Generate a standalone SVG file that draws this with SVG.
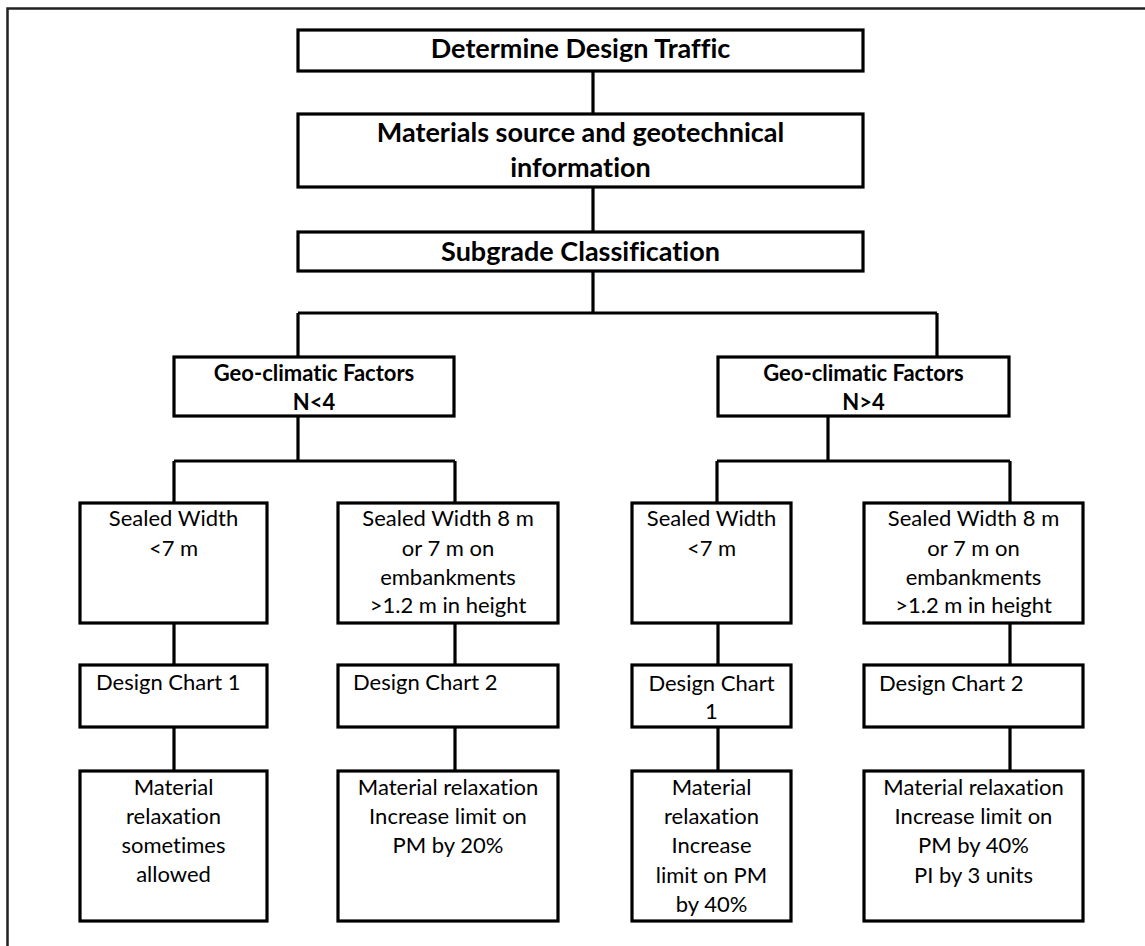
<svg xmlns="http://www.w3.org/2000/svg" width="1145" height="946" viewBox="0 0 1145 946">
<style>
.box{fill:#fff;stroke:#000;stroke-width:3.2}
.con{fill:none;stroke:#000;stroke-width:3.2}
.frame{fill:none;stroke:#222;stroke-width:2.5}
.t{font-family:Lato,"Liberation Sans",sans-serif;fill:#000;font-variant-ligatures:none;font-feature-settings:"liga" 0}
.b1{font-size:27px;font-weight:bold;text-anchor:middle}
.b2{font-size:22px;font-weight:bold;text-anchor:middle}
.r{font-size:22px;text-anchor:middle}
.rl{font-size:22px;text-anchor:start}
</style>
<rect width="1145" height="946" fill="#fff"/>
<path class="frame" d="M7.5,946 V8.5 H1145"/>
<g id="connectors">
<path class="con" d="M593,71 V113 M593,188 V231 M593,272 V313 M298,313 H937 M298,313 V356 M937,313 V356"/>
<path class="con" d="M298,417 V461 M174,461 H455 M174,461 V502 M455,461 V502"/>
<path class="con" d="M828,417 V461 M717,461 H1010 M717,461 V502 M1010,461 V502"/>
<path class="con" d="M174,624 V664 M455,624 V664 M718,624 V664 M1010,624 V664"/>
<path class="con" d="M174,728 V770 M455,728 V770 M718,728 V770 M1010,728 V770"/>
</g>
<g id="n1"><rect class="box" x="298" y="30" width="565" height="41"/><text class="t b1" x="580.5" y="58">Determine Design Traffic</text></g>
<g id="n2"><rect class="box" x="298" y="114" width="565" height="73"/><text class="t b1" x="580.5" y="142">Materials source and geotechnical</text><text class="t b1" x="580.5" y="177">information</text></g>
<g id="n3"><rect class="box" x="298" y="232" width="565" height="39"/><text class="t b1" x="580.5" y="261">Subgrade Classification</text></g>
<g id="n4l"><rect class="box" x="174" y="357" width="280" height="59"/><text class="t b2" x="314" y="381">Geo-climatic Factors</text><text class="t b2" x="314" y="410">N&lt;4</text></g>
<g id="n4r"><rect class="box" x="718" y="357" width="291" height="59"/><text class="t b2" x="863.5" y="381">Geo-climatic Factors</text><text class="t b2" x="863.5" y="410">N&gt;4</text></g>
<g id="n5a"><rect class="box" x="80" y="503" width="187" height="120"/><text class="t r" x="173.5" y="526">Sealed Width</text><text class="t r" x="173.5" y="556">&lt;7 m</text></g>
<g id="n5b"><rect class="box" x="338" y="503" width="220" height="120"/><text class="t r" x="448" y="526">Sealed Width 8 m</text><text class="t r" x="448" y="556">or 7 m on</text><text class="t r" x="448" y="585">embankments</text><text class="t r" x="448" y="613">&gt;1.2 m in height</text></g>
<g id="n5c"><rect class="box" x="632" y="503" width="159" height="120"/><text class="t r" x="711.5" y="526">Sealed Width</text><text class="t r" x="711.5" y="556">&lt;7 m</text></g>
<g id="n5d"><rect class="box" x="864" y="503" width="219" height="120"/><text class="t r" x="973.5" y="526">Sealed Width 8 m</text><text class="t r" x="973.5" y="556">or 7 m on</text><text class="t r" x="973.5" y="585">embankments</text><text class="t r" x="973.5" y="613">&gt;1.2 m in height</text></g>
<g id="n6a"><rect class="box" x="80" y="665" width="187" height="62"/><text class="t rl" x="96" y="690">Design Chart 1</text></g>
<g id="n6b"><rect class="box" x="338" y="665" width="220" height="62"/><text class="t rl" x="353" y="690">Design Chart 2</text></g>
<g id="n6c"><rect class="box" x="632" y="665" width="159" height="62"/><text class="t r" x="711.5" y="691">Design Chart</text><text class="t r" x="711.5" y="719">1</text></g>
<g id="n6d"><rect class="box" x="864" y="665" width="219" height="62"/><text class="t rl" x="879" y="691">Design Chart 2</text></g>
<g id="n7a"><rect class="box" x="80" y="771" width="187" height="150"/><text class="t r" x="173.5" y="795">Material</text><text class="t r" x="173.5" y="824">relaxation</text><text class="t r" x="173.5" y="853">sometimes</text><text class="t r" x="173.5" y="882">allowed</text></g>
<g id="n7b"><rect class="box" x="338" y="771" width="220" height="150"/><text class="t r" x="448" y="795">Material relaxation</text><text class="t r" x="448" y="824">Increase limit on</text><text class="t r" x="448" y="853">PM by 20%</text></g>
<g id="n7c"><rect class="box" x="632" y="771" width="159" height="150"/><text class="t r" x="711.5" y="795">Material</text><text class="t r" x="711.5" y="824">relaxation</text><text class="t r" x="711.5" y="853">Increase</text><text class="t r" x="711.5" y="883">limit on PM</text><text class="t r" x="711.5" y="912">by 40%</text></g>
<g id="n7d"><rect class="box" x="864" y="771" width="219" height="150"/><text class="t r" x="973.5" y="795">Material relaxation</text><text class="t r" x="973.5" y="824">Increase limit on</text><text class="t r" x="973.5" y="853">PM by 40%</text><text class="t r" x="973.5" y="883">PI by 3 units</text></g>
</svg>
